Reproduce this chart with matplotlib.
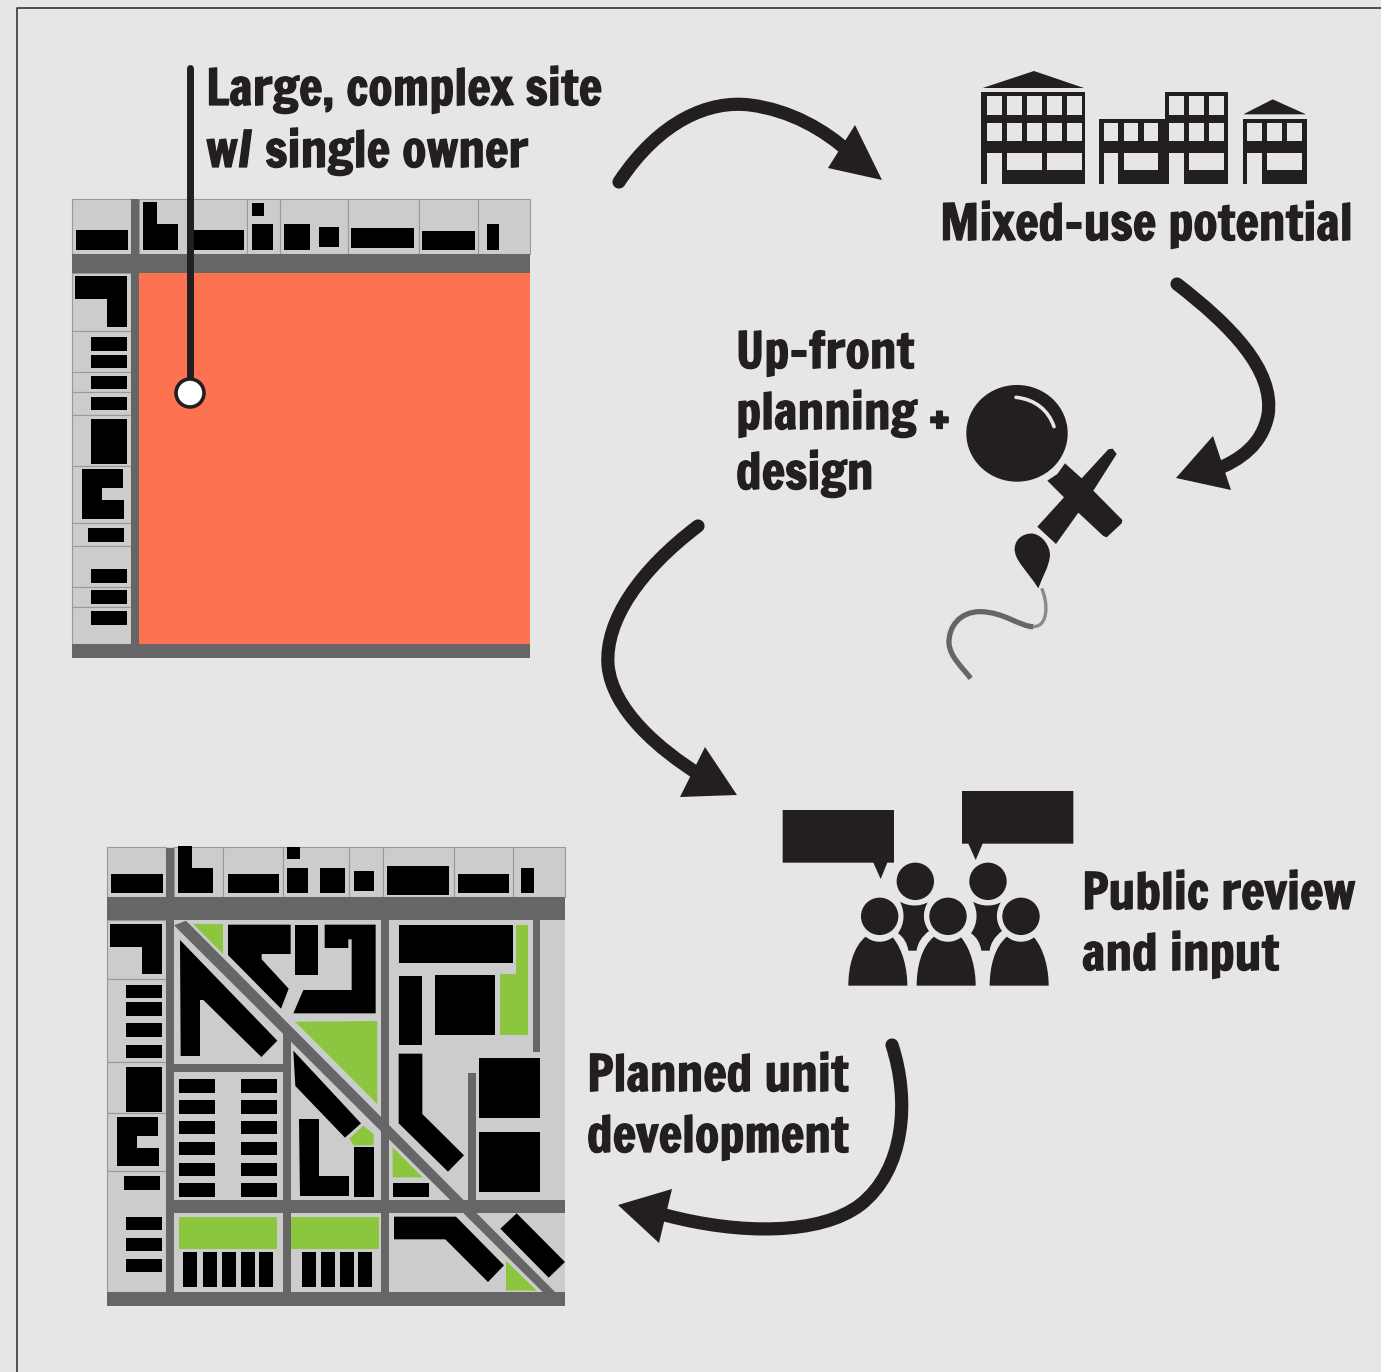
#!/usr/bin/env python3
"""Planned unit development process diagram, drawn in pixel coordinates."""
import matplotlib

matplotlib.use("Agg")  # headless
import matplotlib.patheffects as pe
import matplotlib.pyplot as plt
from matplotlib.patches import Circle, Ellipse, PathPatch, Polygon
from matplotlib.path import Path

W, H = 1381, 1372
BG = "#e6e6e6"
DARK = "#231f20"
ROAD = "#666666"
LOT = "#cccccc"
LOT_EDGE = "#999999"
ORANGE = "#fd7250"
GREEN = "#8cc63f"

# ---- text: (string, left x, baseline y) ----
LABELS = [
    ("Large, complex site", 206, 105), ("w/ single owner", 206, 167),
    ("Mixed-use potential", 940, 240),
    ("Up-front", 736, 368), ("planning +", 736, 429), ("design", 736, 489),
    ("Public review", 1082, 909), ("and input", 1082, 970),
    ("Planned unit", 587, 1091), ("development", 587, 1152),
]
LABEL_SIZE = 35.7

# ---- first map (crop origin 60,190 at 3x) ----
MAP1_ROADS = [(72, 254, 530, 273), (131, 199, 139, 658), (72, 644, 530, 658)]
MAP1_SITE = (139, 273, 530, 644)
MAP1_LOTS_TOP = [(72, 131), (139, 247), (247, 280), (280, 348), (348, 419), (419, 478), (478, 530)]
MAP1_LOTS_LEFT = [(273, 331), (331, 372), (372, 392), (392, 415), (415, 466), (466, 523),
                  (523, 546), (546, 587), (587, 607), (607, 644)]
MAP1_RECTS = [
    (76, 230, 128, 250), (193, 230, 244, 250), (252, 203, 264, 216), (252, 224, 273, 250),
    (284, 224, 310, 250), (319, 227, 339, 247), (351, 228, 414, 248), (422, 231, 475, 250),
    (487, 224, 499, 250),
    (91, 337, 127, 351), (91, 355, 127, 368), (91, 376, 127, 389), (91, 397, 127, 410),
    (91, 419, 127, 464), (88, 528, 124, 542), (91, 569, 127, 583), (91, 590, 127, 604),
    (91, 611, 127, 625),
]
MAP1_SHAPES = [
    [(143, 202), (157, 202), (157, 224), (178, 224), (178, 250), (143, 250)],
    [(75, 276), (127, 276), (127, 327), (107, 327), (107, 299), (75, 299)],
    [(82, 469), (123, 469), (123, 488), (102, 488), (102, 500), (124, 500), (124, 519), (82, 519)],
]

# ---- second map (values in crop units: origin 100,840 at 3x) ----
MAP2_ROADS = [
    (22, 172, 1396, 240), (198, 25, 222, 1398), (22, 1356, 1396, 1398), (198, 1080, 1396, 1118),
    (548, 575, 572, 1356), (844, 240, 868, 1356), (222, 672, 548, 695), (1298, 240, 1321, 635),
    (1104, 700, 1127, 1080),
]
MAP2_DIAGONAL = [(222, 256), (258, 242), (1365, 1356), (1328, 1356)]
MAP2_LOTS_TOP = [(22, 198), (222, 370), (370, 548), (548, 748), (748, 850), (850, 1063), (1063, 1240), (1240, 1396)]
MAP2_LOTS_LEFT = [(240, 417), (417, 667), (667, 820), (820, 994), (994, 1356)]
MAP2_RECTS = [
    (34, 102, 190, 160), (384, 102, 538, 160), (561, 20, 600, 58), (561, 85, 624, 160),
    (659, 85, 735, 160), (762, 94, 821, 153), (862, 78, 1048, 166), (1073, 102, 1228, 160),
    (1264, 85, 1302, 160),
    (78, 434, 186, 475), (78, 487, 186, 528), (78, 550, 186, 592), (78, 614, 186, 655),
    (78, 682, 186, 817), (71, 1008, 180, 1050), (78, 1130, 186, 1171), (78, 1193, 186, 1234),
    (78, 1256, 186, 1297),
    (585, 254, 654, 406), (896, 254, 1239, 370), (896, 408, 967, 616), (1004, 404, 1186, 585),
    (1138, 655, 1321, 835), (1138, 877, 1321, 1057), (762, 922, 821, 1070), (880, 1030, 987, 1072),
    (236, 716, 345, 758), (236, 780, 345, 821), (236, 842, 345, 883), (236, 905, 345, 946),
    (236, 968, 345, 1009), (236, 1030, 345, 1072),
    (424, 716, 532, 758), (424, 780, 532, 821), (424, 842, 532, 883), (424, 905, 532, 946),
    (424, 968, 532, 1009), (424, 1030, 532, 1072),
    (249, 1235, 291, 1342), (308, 1235, 350, 1342), (366, 1235, 408, 1342), (423, 1235, 465, 1342),
    (476, 1235, 519, 1342), (607, 1235, 649, 1342), (663, 1235, 705, 1342), (720, 1235, 762, 1342),
    (775, 1235, 817, 1342),
]
MAP2_SHAPES = [
    [(235, 18), (277, 18), (277, 85), (340, 85), (340, 160), (235, 160)],
    [(30, 252), (186, 252), (186, 403), (125, 403), (125, 321), (30, 321)],
    [(51, 832), (175, 832), (175, 887), (112, 887), (112, 924), (178, 924), (178, 979), (51, 979)],
    [(240, 300), (532, 602), (484, 651), (310, 480), (300, 480), (300, 648), (242, 648)],
    [(384, 254), (572, 254), (572, 342), (485, 342), (485, 358), (566, 446), (543, 506), (384, 345)],
    [(674, 254), (827, 254), (827, 520), (580, 520), (610, 450), (755, 450), (755, 298), (745, 298),
     (745, 324), (674, 324)],
    [(896, 641), (967, 641), (967, 822), (1092, 946), (1044, 995), (896, 850)],
    [(580, 632), (783, 850), (735, 893), (586, 738)],
    [(598, 837), (658, 837), (658, 1008), (747, 1008), (747, 1068), (600, 1068)],
    [(882, 1130), (1068, 1130), (1212, 1276), (1164, 1326), (1036, 1198), (882, 1198)],
    [(1250, 1120), (1395, 1266), (1346, 1313), (1201, 1166)],
]
MAP2_GREEN = [
    [(280, 252), (369, 252), (369, 342)],
    [(585, 545), (832, 543), (832, 792)],
    [(1248, 254), (1283, 254), (1283, 585), (1200, 585), (1200, 402), (1248, 402)],
    [(790, 857), (821, 882), (821, 916), (762, 916), (748, 896)],
    [(878, 922), (968, 1012), (878, 1012)],
    [(236, 1130), (532, 1130), (532, 1226), (236, 1226)],
    [(574, 1130), (838, 1130), (838, 1226), (574, 1226)],
    [(1218, 1262), (1310, 1352), (1218, 1352)],
]

# ---- buildings icon (crop origin 970,60 at 3x) ----
ROOFS = [[(38, 84), (192, 33), (342, 84)], [(820, 163), (908, 118), (1008, 163)]]
FACADES = [
    [(33, 97), (345, 97), (345, 373), (33, 373)],
    [(388, 176), (584, 176), (584, 97), (775, 97), (775, 373), (388, 373)],
    [(818, 176), (1010, 176), (1010, 373), (818, 373)],
]
WINDOW_RECTS = [
    (52, 109, 95, 164), (112, 109, 155, 164), (172, 109, 215, 164), (232, 109, 275, 164), (292, 109, 335, 164),
    (52, 188, 95, 242), (112, 188, 155, 242), (172, 188, 215, 242), (232, 188, 275, 242), (292, 188, 335, 242),
    (52, 278, 95, 373), (112, 278, 215, 331), (232, 278, 335, 331),
    (598, 109, 641, 164), (658, 109, 701, 164), (718, 109, 761, 164),
    (402, 188, 445, 242), (462, 188, 505, 242), (522, 188, 565, 242),
    (598, 188, 641, 242), (658, 188, 701, 242), (718, 188, 761, 242),
    (402, 278, 445, 373), (461, 278, 565, 331), (598, 278, 641, 373), (657, 278, 761, 331),
    (832, 188, 875, 242), (892, 188, 935, 242), (952, 188, 995, 242),
    (832, 278, 875, 373), (892, 278, 995, 331),
]

# ---- lens and brush icon (crop origin 930,370 at 3x) ----
LENS = (261, 190, 150, 143)
HANDLE = [(405, 280), (455, 325), (535, 238), (548, 236), (560, 252), (490, 362), (577, 450), (575, 460),
          (530, 502), (520, 498), (445, 428), (378, 522), (322, 470), (402, 382), (352, 332), (382, 312)]
GLINT = [(258, 82), (315, 88), (355, 120), (372, 170)]
TIP = [(325, 655), (290, 600), (252, 570), (254, 535), (256, 500), (290, 488), (310, 491),
       (340, 497), (360, 530), (360, 555), (358, 590), (335, 625), (325, 655)]
STROKE_THIN = [(335, 655), (355, 700), (355, 770), (310, 770)]
STROKE_THICK = [(310, 770), (270, 770), (220, 725), (150, 725), (90, 725), (55, 770), (57, 820),
                (60, 860), (95, 890), (122, 925)]

# ---- people icon (crop origin 770,780 at 3x) ----
BUBBLES = [[(38, 90), (372, 90), (372, 248), (352, 248), (332, 297), (310, 248), (38, 248)],
           [(576, 33), (910, 33), (910, 191), (638, 191), (617, 240), (595, 191), (576, 191)]]
HEADS = [(436, 304), (654, 304), (329, 409), (534, 409), (753, 409)]
HEAD_R = 54
FRONT_BODY = [(235, 617), (235, 560), (250, 500), (287, 470), (310, 490), (345, 490), (368, 472),
              (400, 510), (412, 570), (412, 617)]
FRONT_DX = [0, 205, 424]
BACK_BODY = [(390, 365), (415, 380), (450, 380), (473, 367), (455, 400), (460, 430), (477, 453),
             (455, 470), (442, 490), (440, 512), (432, 512), (423, 512), (415, 512),
             (412, 490), (400, 470), (384, 460), (405, 430), (405, 395), (390, 365)]
BACK_DX = [0, 219]

# ---- process arrows: cubic control points, then head triangle ----
ARROW_CURVES = [
    [(619, 182), (660, 120), (710, 100), (750, 105), (790, 110), (825, 130), (850, 153)],
    [(1177, 284), (1230, 325), (1275, 370), (1268, 415), (1262, 445), (1240, 460), (1215, 470)],
    [(698, 526), (640, 570), (605, 620), (608, 665), (612, 710), (660, 750), (700, 775)],
    [(892, 1045), (910, 1100), (905, 1170), (860, 1205), (820, 1235), (740, 1235), (665, 1215)],
]
ARROW_HEADS = [
    [(882, 180), (855, 125), (828, 168)],
    [(1176, 478), (1213, 436), (1231, 490)],
    [(737, 795), (705, 747), (680, 797)],
    [(618, 1205), (672, 1189), (659, 1243)],
]

PIN_X, PIN_TOP, PIN_Y, PIN_R = 190, 68, 393, 14


def crop(points, ox, oy):
    return [(ox + x / 3, oy + y / 3) for x, y in points]


def box(x0, y0, x1, y1):
    return [(x0, y0), (x1, y0), (x1, y1), (x0, y1)]


def cubic(points):
    codes = [Path.MOVETO] + [Path.CURVE4] * (len(points) - 1)
    return Path(points, codes)


def fill(ax, points, color, z=2, edge="none", lw=0):
    ax.add_patch(Polygon(points, closed=True, facecolor=color, edgecolor=edge, linewidth=lw, zorder=z))


def main():
    plt.rcParams["font.family"] = ["Francois One", "Liberation Sans", "DejaVu Sans"]
    fig = plt.figure(figsize=(W / 100, H / 100), dpi=100, facecolor=BG)
    ax = fig.add_axes([0, 0, 1, 1])
    ax.set_xlim(0, W)
    ax.set_ylim(H, 0)
    ax.axis("off")

    # frame
    ax.plot([17, 17, W], [H, 8, 8], color="#444444", lw=1.3, zorder=1)

    # first map
    for a, b in MAP1_LOTS_TOP:
        fill(ax, box(a, 199, b, 254), LOT, 1, LOT_EDGE, 0.8)
    for a, b in MAP1_LOTS_LEFT:
        fill(ax, box(72, a, 131, b), LOT, 1, LOT_EDGE, 0.8)
    for r in MAP1_ROADS:
        fill(ax, box(*r), ROAD, 2)
    fill(ax, box(*MAP1_SITE), ORANGE, 2)
    for r in MAP1_RECTS:
        fill(ax, box(*r), "black", 3)
    for s in MAP1_SHAPES:
        fill(ax, s, "black", 3)

    # second map
    ox, oy = 100, 840
    fill(ax, box(107, 847, 565, 1306), LOT, 1)
    for a, b in MAP2_LOTS_TOP:
        fill(ax, crop(box(a, 20, b, 172), ox, oy), LOT, 1, LOT_EDGE, 0.8)
    for a, b in MAP2_LOTS_LEFT:
        fill(ax, crop(box(22, a, 198, b), ox, oy), LOT, 1, LOT_EDGE, 0.8)
    for r in MAP2_ROADS:
        fill(ax, crop(box(*r), ox, oy), ROAD, 2)
    fill(ax, crop(MAP2_DIAGONAL, ox, oy), ROAD, 2)
    for g in MAP2_GREEN:
        fill(ax, crop(g, ox, oy), GREEN, 3)
    for r in MAP2_RECTS:
        fill(ax, crop(box(*r), ox, oy), "black", 3)
    for s in MAP2_SHAPES:
        fill(ax, crop(s, ox, oy), "black", 3)

    # pin
    ax.plot([PIN_X, PIN_X], [PIN_TOP, PIN_Y], color=DARK, lw=5, solid_capstyle="round", zorder=4)
    ax.add_patch(Circle((PIN_X, PIN_Y), PIN_R, facecolor="white", edgecolor=DARK, linewidth=2.6, zorder=5))

    # buildings
    ox, oy = 970, 60
    for p in ROOFS + FACADES:
        fill(ax, crop(p, ox, oy), DARK, 3)
    for r in WINDOW_RECTS:
        fill(ax, crop(box(*r), ox, oy), BG, 4)

    # lens and brush
    ox, oy = 930, 370
    cx, cy, rx, ry = LENS
    ax.add_patch(Ellipse((ox + cx / 3, oy + cy / 3), 2 * rx / 3, 2 * ry / 3, color=DARK, zorder=3))
    fill(ax, crop(HANDLE, ox, oy), DARK, 3)
    ax.add_patch(PathPatch(cubic(crop(GLINT, ox, oy)), fill=False, edgecolor=BG, linewidth=2.6,
                           capstyle="round", zorder=4))
    ax.add_patch(PathPatch(cubic(crop(TIP, ox, oy)), facecolor=DARK, edgecolor="none", zorder=3))
    ax.add_patch(PathPatch(cubic(crop(STROKE_THIN, ox, oy)), fill=False, edgecolor="#8a8a8a",
                           linewidth=2.4, zorder=3))
    ax.add_patch(PathPatch(cubic(crop(STROKE_THICK, ox, oy)), fill=False, edgecolor="#666666",
                           linewidth=3.8, capstyle="butt", zorder=3))

    # people
    ox, oy = 770, 780
    for b in BUBBLES:
        fill(ax, crop(b, ox, oy), DARK, 3)
    for x, y in HEADS:
        ax.add_patch(Circle((ox + x / 3, oy + y / 3), HEAD_R / 3, color=DARK, zorder=3))
    for dx in FRONT_DX:
        pts = [(x + dx, y) for x, y in FRONT_BODY]
        ax.add_patch(PathPatch(cubic(crop(pts, ox, oy)), facecolor=DARK, edgecolor="none", zorder=3))
    for dx in BACK_DX:
        pts = [(x + dx, y) for x, y in BACK_BODY]
        ax.add_patch(PathPatch(cubic(crop(pts, ox, oy)), facecolor=DARK, edgecolor="none", zorder=3))

    # arrows
    for curve, head in zip(ARROW_CURVES, ARROW_HEADS):
        ax.add_patch(PathPatch(cubic(curve), fill=False, edgecolor=DARK, linewidth=9.5,
                               capstyle="round", zorder=3))
        fill(ax, head, DARK, 3)

    # a thin same-colour stroke thickens the letters towards the heavier original face
    heavier = [pe.withStroke(linewidth=0.9, foreground=DARK)]
    for s, x, y in LABELS:
        ax.text(x, y, s, fontsize=LABEL_SIZE, color=DARK, ha="left", va="baseline", zorder=6,
                path_effects=heavier)

    fig.savefig("out.png", dpi=100, facecolor=BG)
    plt.close(fig)


if __name__ == "__main__":
    main()
